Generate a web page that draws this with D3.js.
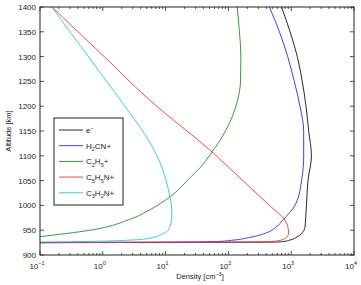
<!DOCTYPE html>
<html>
<head>
<meta charset="utf-8">
<script src="https://cdn.jsdelivr.net/npm/d3@7"></script>
<style>
  body { margin: 0; background: #fff; }
  text { font-family: "Liberation Sans", Arial, sans-serif; fill: #222; }
</style>
</head>
<body>
<div id="vis"></div>
<script>
// perfiles de densidad (altitud km, densidad cm^-3)
const ALT_E   = [1400, 1350, 1300, 1250, 1200, 1150, 1100, 1050, 1000, 975, 956, 945, 936, 930, 927, 926, 925.6, 925.3];
const DEN_E   = [700, 960, 1250, 1500, 1720, 1900, 2100, 1850, 1750, 1700, 1660, 1500, 1230, 950, 720, 560, 30, 0.1];

const ALT_H2CN = [1400, 1350, 1300, 1250, 1200, 1150, 1100, 1054, 1000, 971, 955, 945, 935, 930, 927, 926, 925.5, 925.2];
const DEN_H2CN = [450, 650, 880, 1120, 1380, 1580, 1580, 1480, 1150, 740, 560, 410, 210, 120, 60, 22, 3, 0.1];

const ALT_C2H5 = [1400, 1350, 1300, 1250, 1212, 1150, 1102, 1077, 1057, 1017, 991, 972, 950, 937];
const DEN_C2H5 = [138, 150, 158, 156, 140, 90, 51, 36, 25, 11.7, 5.6, 2.7, 0.63, 0.1];

const ALT_C5H5N = [1400, 1300, 1212, 1106, 1050, 1000, 970, 955, 945, 938, 932, 928, 926.5, 925.8, 925.3, 924];
const DEN_C5H5N = [0.155, 1.05, 5.6, 57, 170, 450, 800, 890, 910, 880, 760, 560, 250, 20, 1, 0.1];

const ALT_C3H2N = [1400, 1350, 1300, 1250, 1200, 1150, 1100, 1050, 1017, 987, 971, 950, 940, 934, 930, 928, 927, 926];
const DEN_C3H2N = [0.155, 0.30, 0.59, 1.15, 2.25, 4.3, 7.3, 10.2, 11.7, 12.6, 12.4, 11, 8, 5.6, 2.7, 1, 0.4, 0.1];

const SERIES = [
  { name: "e-",      alt: ALT_E,     den: DEN_E,     color: "#111111" },
  { name: "H2CN+",   alt: ALT_H2CN,  den: DEN_H2CN,  color: "#2a2ae8" },
  { name: "C2H5+",   alt: ALT_C2H5,  den: DEN_C2H5,  color: "#1f8f1f" },
  { name: "C5H5N+",  alt: ALT_C5H5N, den: DEN_C5H5N, color: "#f03434" },
  { name: "C3H2N+",  alt: ALT_C3H2N, den: DEN_C3H2N, color: "#22cccc" }
];

// etiquetas de la leyenda: [texto, subindice/superindice]
const LEGEND_LABELS = [
  [["e", ""], ["\u2212", "sup"]],
  [["H", ""], ["2", "sub"], ["CN+", ""]],
  [["C", ""], ["2", "sub"], ["H", ""], ["5", "sub"], ["+", ""]],
  [["C", ""], ["5", "sub"], ["H", ""], ["5", "sub"], ["N+", ""]],
  [["C", ""], ["3", "sub"], ["H", ""], ["2", "sub"], ["N+", ""]]
];

const Y_TICKS = [900, 950, 1000, 1050, 1100, 1150, 1200, 1250, 1300, 1350, 1400];
const X_DECADES = [-1, 0, 1, 2, 3, 4];

const WIDTH = 361;
const HEIGHT = 285;
const MARGIN = { top: 7, bottom: 30, left: 40, right: 7 };

const SVG = d3.select("#vis").append("svg")
  .attr("width", WIDTH).attr("height", HEIGHT);

const escalaX = d3.scaleLog()
  .domain([0.1, 10000])
  .range([MARGIN.left, WIDTH - MARGIN.right]);

const escalaY = d3.scaleLinear()
  .domain([900, 1400])
  .range([HEIGHT - MARGIN.bottom, MARGIN.top]);

const x0 = escalaX.range()[0], x1 = escalaX.range()[1];
const y0 = escalaY.range()[0], y1 = escalaY.range()[1];

SVG.append("clipPath").attr("id", "clip")
  .append("rect")
  .attr("x", x0).attr("y", y1)
  .attr("width", x1 - x0).attr("height", y0 - y1);

// curvas
const linea = d3.line()
  .x(d => escalaX(d[1]))
  .y(d => escalaY(d[0]))
  .curve(d3.curveMonotoneY);

const curvas = SVG.append("g").attr("clip-path", "url(#clip)");
SERIES.forEach(s => {
  const pts = s.alt.map((a, i) => [a, s.den[i]]);
  curvas.append("path")
    .datum(pts)
    .attr("fill", "none")
    .attr("stroke", s.color)
    .attr("stroke-width", 0.9)
    .attr("d", linea);
});

// ejes (ticks hacia dentro, estilo matlab)
const ejes = SVG.append("g").attr("stroke", "#222").attr("stroke-width", 0.8);

const minorTicks = [];
X_DECADES.slice(0, -1).forEach(e => {
  for (let k = 2; k <= 9; k++) minorTicks.push(k * Math.pow(10, e));
});

X_DECADES.forEach(e => {
  const x = escalaX(Math.pow(10, e));
  ejes.append("line").attr("x1", x).attr("x2", x).attr("y1", y0).attr("y2", y0 - 4);
  ejes.append("line").attr("x1", x).attr("x2", x).attr("y1", y1).attr("y2", y1 + 4);
});
minorTicks.forEach(v => {
  const x = escalaX(v);
  ejes.append("line").attr("x1", x).attr("x2", x).attr("y1", y0).attr("y2", y0 - 2);
  ejes.append("line").attr("x1", x).attr("x2", x).attr("y1", y1).attr("y2", y1 + 2);
});
Y_TICKS.forEach(t => {
  const y = escalaY(t);
  ejes.append("line").attr("x1", x0).attr("x2", x0 + 4).attr("y1", y).attr("y2", y);
  ejes.append("line").attr("x1", x1).attr("x2", x1 - 4).attr("y1", y).attr("y2", y);
});

SVG.append("rect")
  .attr("x", x0).attr("y", y1)
  .attr("width", x1 - x0).attr("height", y0 - y1)
  .attr("fill", "none").attr("stroke", "#222").attr("stroke-width", 1);

// etiquetas de ticks
SVG.append("g").selectAll("text")
  .data(Y_TICKS)
  .join("text")
  .attr("x", x0 - 4)
  .attr("y", d => escalaY(d) + 3)
  .attr("text-anchor", "end")
  .attr("font-size", 8)
  .text(d => d);

const xl = SVG.append("g").selectAll("text")
  .data(X_DECADES)
  .join("text")
  .attr("x", d => escalaX(Math.pow(10, d)) - 3)
  .attr("y", y0 + 14)
  .attr("text-anchor", "middle")
  .attr("font-size", 8);
xl.append("tspan").text("10");
xl.append("tspan").attr("dy", -4).attr("font-size", 5.5).text(d => d < 0 ? "\u2212" + (-d) : d);

const tx = SVG.append("text")
  .attr("x", 200).attr("y", 279)
  .attr("text-anchor", "middle")
  .attr("font-size", 7.5);
tx.append("tspan").text("Density [cm");
tx.append("tspan").attr("dy", -3.5).attr("font-size", 5.5).text("\u22123");
tx.append("tspan").attr("dy", 3.5).text("]");

SVG.append("text")
  .attr("transform", `translate(11, ${(y0 + y1) / 2}) rotate(-90)`)
  .attr("text-anchor", "middle")
  .attr("font-size", 7.5)
  .text("Altitude [km]");

// leyenda
const LEG = { x: 54, y: 118, w: 69, h: 87, row: 15.7 };
const leyenda = SVG.append("g");
leyenda.append("rect")
  .attr("x", LEG.x).attr("y", LEG.y)
  .attr("width", LEG.w).attr("height", LEG.h)
  .attr("fill", "#fff").attr("stroke", "#222").attr("stroke-width", 1);

SERIES.forEach((s, i) => {
  const cy = LEG.y + 12 + i * LEG.row;
  leyenda.append("line")
    .attr("x1", LEG.x + 5).attr("x2", LEG.x + 29)
    .attr("y1", cy).attr("y2", cy)
    .attr("stroke", s.color).attr("stroke-width", 0.9);
  const t = leyenda.append("text")
    .attr("x", LEG.x + 32).attr("y", cy + 3)
    .attr("font-size", 8);
  let shift = 0;
  LEGEND_LABELS[i].forEach(([txt, kind]) => {
    const off = kind === "sub" ? 2.5 : kind === "sup" ? -3.5 : 0;
    t.append("tspan")
      .attr("dy", off - shift)
      .attr("font-size", kind ? 5.5 : 8)
      .text(txt);
    shift = off;
  });
});
</script>
</body>
</html>
